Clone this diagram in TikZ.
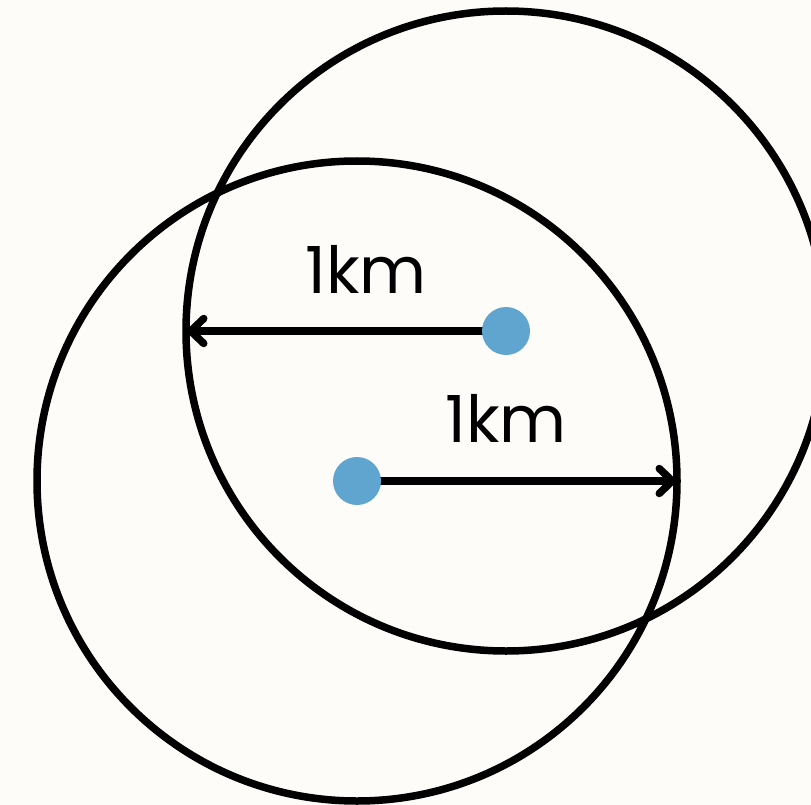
\documentclass[tikz,border=0pt]{standalone}
\usepackage{fontspec}
\setmainfont{Poppins}
\usetikzlibrary{arrows.meta}
\definecolor{bg}{HTML}{FEFCF8}
\definecolor{dotblue}{HTML}{5FA5CF}
\tikzset{
  ring/.style={draw=black, line width=7.5pt},
  hub/.style={circle, fill=dotblue, minimum size=48pt, inner sep=0pt},
  radius arrow/.style={draw=black, line width=7.5pt,
    -{Straight Barb[length=13pt, width=25pt, line cap=round, line join=round]}},
  lbl/.style={font=\fontsize{65}{67}\selectfont, anchor=base, inner sep=0pt}
}
\begin{document}
\begin{tikzpicture}[x=1pt, y=-1pt]
  \fill[bg] (0,0) rectangle (811,805);
  \useasboundingbox (0,0) rectangle (811,805);
  \clip (0,0) rectangle (811,805);
  \coordinate (o1) at (506,331);
  \coordinate (o2) at (357,481);
  \draw[ring] (o1) circle (320pt);
  \draw[ring] (o2) circle (320pt);
  \coordinate (e1) at (187,331);
  \coordinate (e2) at (676,481);
  \draw[radius arrow] (o1) -- (e1);
  \draw[radius arrow] (o2) -- (e2);
  \node[hub] (d1) at (o1) {};
  \node[hub] (d2) at (o2) {};
  \node[lbl] (t1) at (366,293) {1km};
  \node[lbl] (t2) at (506,442) {1km};
\end{tikzpicture}
\end{document}
